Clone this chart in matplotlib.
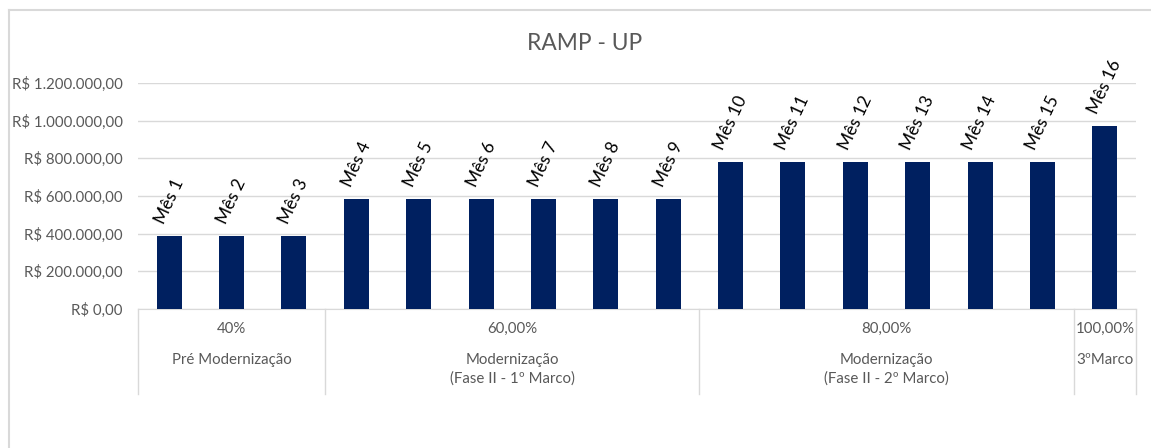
import matplotlib
matplotlib.use("Agg")
import matplotlib.pyplot as plt
from matplotlib.lines import Line2D
from matplotlib.transforms import blended_transform_factory

plt.rcParams["font.family"] = ["Lato", "DejaVu Sans"]

# monthly ramp-up values (R$)
months = [f"Mês {i}" for i in range(1, 17)]
values = [389000] * 3 + [584000] * 6 + [778000] * 6 + [973000]

# grouping of the months on the category axis
group_sizes = [3, 6, 6, 1]
group_pct = ["40%", "60,00%", "80,00%", "100,00%"]
group_names = ["Pré Modernização",
               "Modernização\n(Fase II - 1º Marco)",
               "Modernização\n(Fase II - 2º Marco)",
               "3ºMarco"]

yticks = [0, 200000, 400000, 600000, 800000, 1000000, 1200000]
ytick_labels = ["R$ 0,00", "R$ 200.000,00", "R$ 400.000,00", "R$ 600.000,00",
                "R$ 800.000,00", "R$ 1.000.000,00", "R$ 1.200.000,00"]

W, H = 1151, 448
fig = plt.figure(figsize=(W / 100, H / 100), dpi=100)
ax = fig.add_axes([138 / W, 1 - 309 / H, 998 / W, 226 / H])

grey = "#595959"
grid = "#d9d9d9"
x = list(range(len(months)))

ax.bar(x, values, width=0.4, color="#002060", zorder=3)
ax.set_xlim(-0.5, len(months) - 0.5)
ax.set_ylim(0, 1200000)
ax.set_yticks(yticks)
ax.set_yticklabels(ytick_labels, color=grey, fontsize=10.8)
ax.set_xticks([])
ax.tick_params(axis="y", length=0, pad=11)
ax.grid(axis="y", color=grid, linewidth=1, zorder=0)
for side in ["top", "right", "left"]:
    ax.spines[side].set_visible(False)
ax.spines["bottom"].set_color(grid)

for xi, v, name in zip(x, values, months):
    ax.annotate(name, (xi, v), xytext=(0, 7), textcoords="offset points",
                rotation=65, ha="center", va="bottom", fontsize=12.5,
                color="black", annotation_clip=False)

# two-level category axis below the plot
tr = blended_transform_factory(ax.transData, fig.transFigure)
edges = [-0.5]
for n in group_sizes:
    edges.append(edges[-1] + n)
for e in edges:
    ax.add_line(Line2D([e, e], [1 - 309 / H, 1 - 394 / H], transform=tr,
                       color=grid, linewidth=1, clip_on=False))
for i, (pct, name) in enumerate(zip(group_pct, group_names)):
    cx = (edges[i] + edges[i + 1]) / 2
    ax.text(cx, 1 - 329 / H, pct, transform=tr, ha="center", va="center",
            color=grey, fontsize=10.8)
    ax.text(cx, 1 - 353 / H, name, transform=tr, ha="center", va="top",
            color=grey, fontsize=10.8, linespacing=1.35)

fig.text(585 / W, 1 - 44 / H, "RAMP - UP", ha="center", va="center",
         color=grey, fontsize=16.4)

# chart frame
fig.add_artist(Line2D([9 / W, 1], [1 - 10 / H, 1 - 10 / H], color=grid, linewidth=1.5))
fig.add_artist(Line2D([9 / W, 9 / W], [0, 1 - 10 / H], color=grid, linewidth=1.5))

fig.savefig("out.png", dpi=100, facecolor="white")
